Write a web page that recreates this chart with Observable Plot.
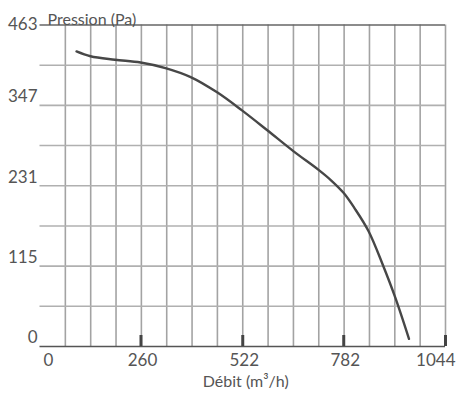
<!DOCTYPE html>
<html>
<head>
<meta charset="utf-8">
<script src="https://cdn.jsdelivr.net/npm/d3@7"></script>
<script src="https://cdn.jsdelivr.net/npm/@observablehq/plot@0.6"></script>
<style>
  html, body { margin: 0; padding: 0; background: #fff; }
  svg { display: block; }
</style>
</head>
<body>
<div id="chart"></div>
<script>
// Data
const debit    = [94, 130, 193, 259, 323, 388, 456, 520, 586, 653, 718, 750, 782, 810, 846, 883, 915, 950];
const pression = [425, 418, 413, 409, 401, 388, 366, 340, 311, 281, 254, 239, 221, 199, 166, 117, 70, 11];
const xTicks = [0, 260, 522, 782, 1044];
const yTicks = [0, 115, 231, 347, 463];
const xMax = 1044, yMax = 463;
const xDivisions = 16, yDivisions = 8;
const xTitle = "Débit (m³/h)";
const yTitle = "Pression (Pa)";

const curve = debit.map((d, i) => ({debit: d, pression: pression[i]}));
const xGrid = d3.range(1, xDivisions + 1).map(i => i * xMax / xDivisions);
const yGrid = d3.range(1, yDivisions).map(i => i * yMax / yDivisions);

const txt = "#555";
const chart = Plot.plot({
  width: 458,
  height: 397,
  marginLeft: 39.5,
  marginRight: 13,
  marginTop: 24.5,
  marginBottom: 51,
  x: {domain: [0, xMax], axis: null},
  y: {domain: [0, yMax], axis: null},
  style: {fontFamily: "Lato, sans-serif", background: "#fff", color: txt},
  marks: [
    Plot.ruleX(xGrid, {stroke: "#a3a3a3", strokeWidth: 1.6}),
    Plot.ruleY(yGrid, {stroke: "#b0b0b0", strokeWidth: 1.6}),
    Plot.ruleY([yMax], {stroke: "#666", strokeWidth: 1.5}),
    Plot.ruleY([0], {stroke: "#555", strokeWidth: 1.6}),
    Plot.axisX({ticks: xTicks.slice(1), tickSize: -11, strokeWidth: 3, stroke: "#444", tickFormat: () => "", anchor: "bottom", label: null}),
    Plot.line(curve, {x: "debit", y: "pression", curve: "catmull-rom", stroke: "#474747", strokeWidth: 2.4}),
    // y tick labels
    Plot.text(yTicks.slice(0, -1), {x: 0, y: d => d, text: d => String(d), textAnchor: "end", dx: -2.5, dy: -9, fontSize: 17, fill: txt}),
    Plot.text(yTicks.slice(-1), {x: 0, y: d => d, text: d => String(d), textAnchor: "end", dx: -2.5, dy: 0, fontSize: 17, fill: txt}),
    // x tick labels
    Plot.text(xTicks.slice(0, 1), {x: d => d, text: d => String(d), frameAnchor: "bottom", textAnchor: "start", dx: 3.5, dy: 19, fontSize: 17, fill: txt}),
    Plot.text(xTicks.slice(1, -1), {x: d => d, text: d => String(d), frameAnchor: "bottom", dx: 1.5, dy: 19, fontSize: 17, fill: txt}),
    Plot.text(xTicks.slice(-1), {x: d => d, text: d => String(d), frameAnchor: "bottom", textAnchor: "end", dx: 10, dy: 19, fontSize: 17, fill: txt}),
    // titles
    Plot.text([xTitle], {frameAnchor: "bottom", dx: 3, dy: 40, fontSize: 16, fill: txt}),
    Plot.text([yTitle], {frameAnchor: "top-left", textAnchor: "start", dx: 7.5, dy: -11, fontSize: 16, fill: txt})
  ]
});
document.getElementById("chart").appendChild(chart);
</script>
</body>
</html>
